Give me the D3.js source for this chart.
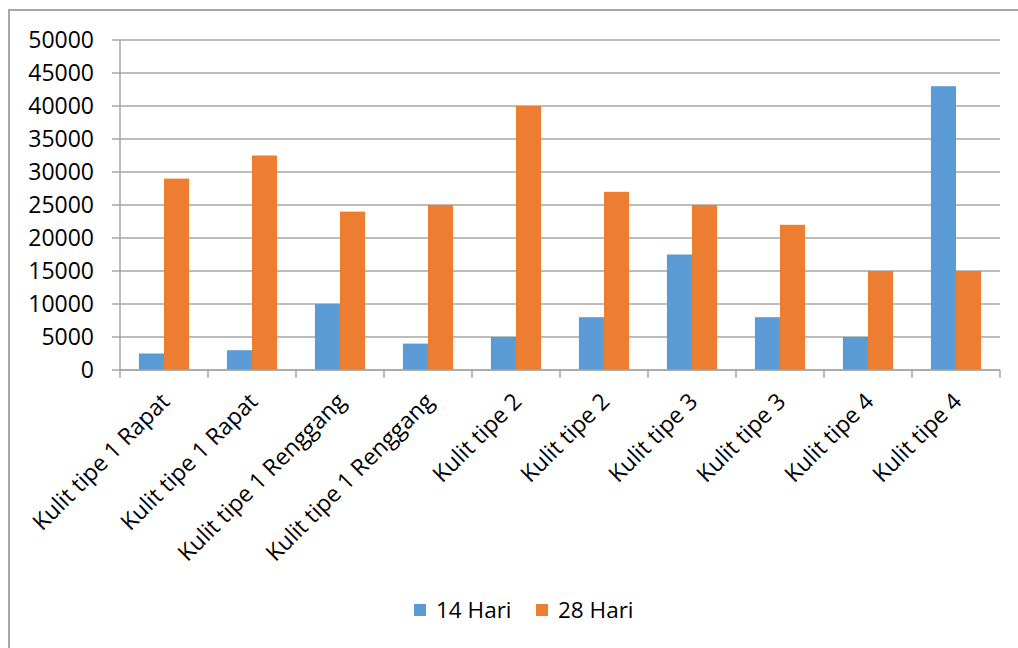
<!DOCTYPE html>
<html>
<head>
<meta charset="utf-8">
<script src="https://cdn.jsdelivr.net/npm/d3@7"></script>
<style>
  body { margin: 0; background: #fff; }
  svg { font-family: "Open Sans", sans-serif; }
  .grid line { stroke: #a6a6a6; stroke-width: 1.5; }
  .tick-label { font-size: 23px; fill: #000; }
  .cat-label { font-size: 23px; fill: #000; }
  .legend-label { font-size: 22.5px; fill: #000; }
</style>
</head>
<body>
<svg id="chart" width="1018" height="648"></svg>
<script>
var categories = ["Kulit tipe 1 Rapat", "Kulit tipe 1 Rapat", "Kulit tipe 1 Renggang",
                  "Kulit tipe 1 Renggang", "Kulit tipe 2", "Kulit tipe 2",
                  "Kulit tipe 3", "Kulit tipe 3", "Kulit tipe 4", "Kulit tipe 4"];
var seriesNames = ["14 Hari", "28 Hari"];
var hari14 = [2500, 3000, 10000, 4000, 5000, 8000, 17500, 8000, 5000, 43000];
var hari28 = [29000, 32500, 24000, 25000, 40000, 27000, 25000, 22000, 15000, 15000];
var yTicks = [0, 5000, 10000, 15000, 20000, 25000, 30000, 35000, 40000, 45000, 50000];
var colors = ["#5b9bd5", "#ed7d31"];

var margin = {top: 40, left: 120, right: 18, bottom: 278};
var width = 1018 - margin.left - margin.right;   // 880
var height = 648 - margin.top - margin.bottom;   // 330

var svg = d3.select("#chart");

// outer frame (right and bottom run off the picture)
svg.append("rect")
    .attr("x", 9).attr("y", 10)
    .attr("width", 1030).attr("height", 660)
    .attr("fill", "none")
    .attr("stroke", "#a6a6a6")
    .attr("stroke-width", 2);

var g = svg.append("g")
    .attr("transform", "translate(" + margin.left + "," + margin.top + ")");

var rows = categories.map(function(c, i) {
    return {idx: i, name: c, values: [hari14[i], hari28[i]]};
});

var x0 = d3.scaleBand()
    .domain(d3.range(categories.length))
    .range([0, width])
    .paddingInner(0.43)
    .paddingOuter(0.215);

var x1 = d3.scaleBand()
    .domain([0, 1])
    .range([0, x0.bandwidth()]);

var y = d3.scaleLinear()
    .domain([0, 50000])
    .range([height, 0]);

var step = x0.step();

// gridlines with small ticks to the left
g.append("g")
    .attr("class", "grid")
    .selectAll("line")
    .data(yTicks)
    .enter().append("line")
    .attr("x1", -8)
    .attr("x2", width)
    .attr("y1", function(d) { return y(d); })
    .attr("y2", function(d) { return y(d); });

// y axis line
g.append("line")
    .attr("x1", 0).attr("x2", 0)
    .attr("y1", 0).attr("y2", height)
    .attr("stroke", "#a6a6a6").attr("stroke-width", 1.5);

// y tick labels
g.selectAll(".tick-label")
    .data(yTicks)
    .enter().append("text")
    .attr("class", "tick-label")
    .attr("x", -26)
    .attr("y", function(d) { return y(d); })
    .attr("dy", "0.35em")
    .attr("text-anchor", "end")
    .text(function(d) { return d; });

// x tick marks at category boundaries
g.selectAll(".xtick")
    .data(d3.range(categories.length + 1))
    .enter().append("line")
    .attr("x1", function(i) { return i * step; })
    .attr("x2", function(i) { return i * step; })
    .attr("y1", height)
    .attr("y2", height + 8)
    .attr("stroke", "#a6a6a6").attr("stroke-width", 1.5);

// bars
var groups = g.selectAll(".cat")
    .data(rows)
    .enter().append("g")
    .attr("transform", function(d) { return "translate(" + x0(d.idx) + ",0)"; });

groups.selectAll("rect")
    .data(function(d) { return d.values.map(function(v, k) { return {k: k, v: v}; }); })
    .enter().append("rect")
    .attr("x", function(d) { return x1(d.k); })
    .attr("y", function(d) { return y(d.v); })
    .attr("width", x1.bandwidth())
    .attr("height", function(d) { return height - y(d.v); })
    .attr("fill", function(d) { return colors[d.k]; });

// redraw the baseline over bars
g.append("line")
    .attr("x1", 0).attr("x2", width)
    .attr("y1", height).attr("y2", height)
    .attr("stroke", "#a6a6a6").attr("stroke-width", 1.5);

// rotated category labels
g.selectAll(".cat-label")
    .data(rows)
    .enter().append("text")
    .attr("class", "cat-label")
    .attr("text-anchor", "end")
    .attr("transform", function(d) {
        var cx = x0(d.idx) + x0.bandwidth() / 2 + 7;
        return "translate(" + cx + "," + (height + 33) + ") rotate(-45)";
    })
    .text(function(d) { return d.name; });

// legend
var legend = svg.append("g").attr("transform", "translate(414,604)");
var legendX = [0, 122];
seriesNames.forEach(function(name, k) {
    legend.append("rect")
        .attr("x", legendX[k]).attr("y", 0)
        .attr("width", 12).attr("height", 12)
        .attr("fill", colors[k]);
    legend.append("text")
        .attr("class", "legend-label")
        .attr("x", legendX[k] + 22)
        .attr("y", 6)
        .attr("dy", "0.35em")
        .text(name);
});
</script>
</body>
</html>
